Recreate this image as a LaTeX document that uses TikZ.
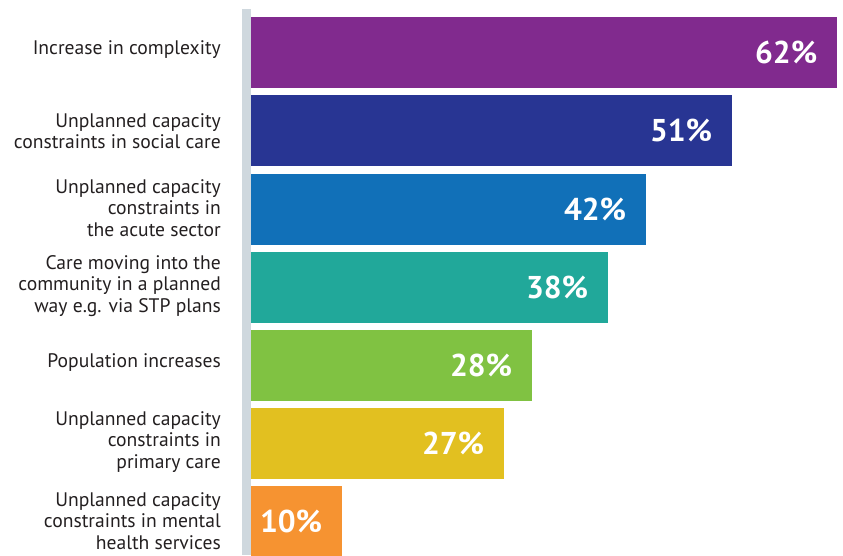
\documentclass[tikz,border=0pt]{standalone}
\usepackage{fontspec}
\setmainfont{PT Sans}
\definecolor{axisgrey}{HTML}{CFD8DE}
\definecolor{c1}{HTML}{812A8E}
\definecolor{c2}{HTML}{283593}
\definecolor{c3}{HTML}{1170B8}
\definecolor{c4}{HTML}{21A89A}
\definecolor{c5}{HTML}{80C242}
\definecolor{c6}{HTML}{E2C020}
\definecolor{c7}{HTML}{F69331}
\definecolor{txt}{HTML}{231F20}
\begin{document}
\begin{tikzpicture}[x=1pt,y=-1pt,
  bar/.style={draw=none,anchor=north west,inner sep=0pt,minimum height=71pt},
  pct/.style={font=\bfseries\fontsize{31.5}{31.5}\selectfont,text=white,anchor=east,inner sep=0pt},
  lbl/.style={align=right,anchor=east,inner sep=0pt,font=\fontsize{19.6}{21.5}\selectfont,text=txt}]
\useasboundingbox (0,0) rectangle (843,555);
\fill[axisgrey] (242,9) rectangle (251,555);
\node[bar,fill=c1,minimum width=586.3pt] (b1) at (250.7,17) {};
\node[bar,fill=c2,minimum width=481.3pt] (b2) at (250.7,95.2) {};
\node[bar,fill=c3,minimum width=395.3pt] (b3) at (250.7,173.4) {};
\node[bar,fill=c4,minimum width=357.3pt] (b4) at (250.7,251.6) {};
\node[bar,fill=c5,minimum width=281.3pt] (b5) at (250.7,329.8) {};
\node[bar,fill=c6,minimum width=253.3pt] (b6) at (250.7,408) {};
\node[bar,fill=c7,minimum width=91.3pt] (b7) at (250.7,486.2) {};
\node[pct] (p1) at ([xshift=-20pt]b1.east) {62\%};
\node[pct] (p2) at ([xshift=-20pt]b2.east) {51\%};
\node[pct] (p3) at ([xshift=-20pt]b3.east) {42\%};
\node[pct] (p4) at ([xshift=-20pt]b4.east) {38\%};
\node[pct] (p5) at ([xshift=-20pt]b5.east) {28\%};
\node[pct] (p6) at ([xshift=-20pt]b6.east) {27\%};
\node[pct] (p7) at ([xshift=-20pt]b7.east) {10\%};
\node[lbl] (l1) at (221,50) {Increase in complexity};
\node[lbl] (l2) at (221,131) {Unplanned capacity\\constraints in social care};
\node[lbl] (l3) at (221,208) {Unplanned capacity\\constraints in\\the acute sector};
\node[lbl] (l4) at (221,286) {Care moving into the\\community in a planned\\way e.g. via STP plans};
\node[lbl] (l5) at (221,363) {Population increases};
\node[lbl] (l6) at (221,442) {Unplanned capacity\\constraints in\\primary care};
\node[lbl] (l7) at (221,521) {Unplanned capacity\\constraints in mental\\health services};
\end{tikzpicture}
\end{document}
